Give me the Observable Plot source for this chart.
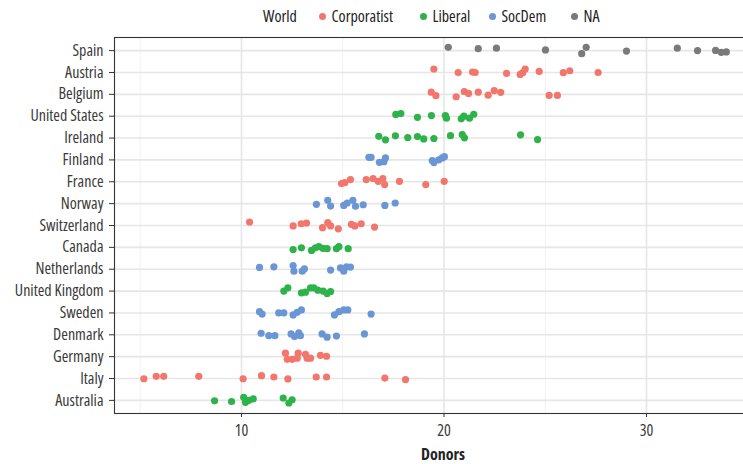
<!DOCTYPE html>
<html><head><meta charset="utf-8">
<script src="https://cdn.jsdelivr.net/npm/d3@7"></script>
<script src="https://cdn.jsdelivr.net/npm/@observablehq/plot@0.6"></script>
<style>
html,body{margin:0;padding:0;background:#fff;overflow:hidden;}
body{font-family:"Open Sans",sans-serif;font-stretch:76%;}
#legend{position:relative;height:30px;width:743px;font-size:16px;color:#222;}
#legend span{position:absolute;top:6px;white-space:nowrap;line-height:20px;}
#legend i{display:inline-block;width:7px;height:7px;border-radius:50%;margin-right:6px;vertical-align:2px;}
#chart svg{max-width:none;font-stretch:76%;}
</style></head><body>
<div id="legend"></div><div id="chart"></div>
<script>
const countries = ["Spain","Austria","Belgium","United States","Ireland","Finland","France","Norway","Switzerland","Canada","Netherlands","United Kingdom","Sweden","Denmark","Germany","Italy","Australia"];
const worlds = ["NA","Corporatist","Corporatist","Liberal","Liberal","SocDem","Corporatist","SocDem","Corporatist","Liberal","SocDem","Liberal","SocDem","SocDem","Corporatist","Corporatist","Liberal"];
const worldLevels = ["Corporatist","Liberal","SocDem","NA"];
const worldColors = ["#f3766d","#2db34a","#6b96d6","#7a7a7a"];
const donors = [
  [20.21,21.69,22.59,25.01,26.8,27.02,29.01,31.52,32.52,33.41,33.69,33.94],
  [19.50,20.70,21.41,21.54,23.09,23.76,23.89,24.01,24.70,25.89,26.21,27.61],
  [19.37,19.60,20.60,21.00,21.21,21.69,22.18,22.48,22.80,25.19,25.60],
  [17.62,17.87,18.69,19.38,20.07,20.12,20.85,20.98,21.26,21.47],
  [16.78,17.11,17.60,18.21,18.69,19.00,19.50,20.32,20.90,21.01,23.78,24.62],
  [16.29,16.40,16.81,17.03,17.11,19.42,19.50,19.74,19.91,20.02],
  [14.94,15.10,15.38,16.16,16.50,16.75,16.98,17.07,17.80,19.10,20.01],
  [13.70,14.26,14.40,15.05,15.22,15.50,15.63,16.01,17.08,17.59],
  [10.40,12.55,12.95,13.21,14.00,14.26,14.40,14.78,15.43,15.60,15.91,16.57],
  [12.55,12.96,13.46,13.65,13.82,14.03,14.23,14.69,14.81,15.27],
  [10.89,11.60,12.55,12.59,13.00,13.11,14.40,14.89,15.05,15.19,15.38],
  [12.09,12.29,12.96,13.16,13.41,13.57,13.77,14.03,14.23,14.40],
  [10.89,11.02,11.84,12.09,12.55,12.75,12.96,14.59,14.81,15.05,15.25,16.40],
  [10.97,11.35,11.65,12.45,12.62,12.83,12.91,13.98,14.23,14.69,16.07],
  [12.17,12.26,12.50,12.75,12.80,13.16,13.24,13.41,13.90,14.20],
  [5.18,5.79,6.16,7.89,10.08,10.99,11.60,12.29,13.69,14.20,17.08,18.10],
  [8.67,9.51,10.11,10.20,10.36,10.58,12.06,12.34,12.50]
];
// vertical jitter (fraction of a row)
const jitter = [
  [-0.15,-0.09,-0.11,-0.03,0.14,-0.15,0.02,-0.11,0,-0.01,0.08,0.06],
  [-0.16,0,-0.02,0,0.04,0.09,0.01,-0.16,-0.05,0.01,-0.08,0],
  [-0.10,0.06,0.11,-0.13,-0.04,-0.10,0.04,-0.17,-0.09,0.05,0.05],
  [-0.08,-0.12,0.05,-0.03,-0.03,0.09,0.12,0,0.09,-0.09],
  [-0.08,0.08,-0.10,-0.02,-0.07,0.04,0.02,-0.11,-0.16,-0.01,-0.15,0.07],
  [-0.12,-0.12,0.11,0.08,-0.09,0.03,0.12,0,-0.09,-0.15],
  [0.08,0.04,-0.10,-0.10,-0.15,-0.02,-0.15,0.13,-0.02,0.13,-0.02],
  [0.03,-0.15,0.11,0.08,-0.03,-0.15,0.12,0.05,0.08,-0.03],
  [-0.16,0.02,-0.08,-0.11,0.10,-0.13,0.02,0.15,-0.05,0.02,-0.08,0.07],
  [0.10,0.02,0.14,0.02,-0.03,0.05,0.06,0.06,-0.03,0.06],
  [-0.08,-0.11,-0.17,0.09,0.09,-0.02,0.04,-0.06,0.09,-0.11,-0.10],
  [0,-0.15,0.08,0.05,-0.15,-0.15,-0.04,0,0.11,0.02],
  [-0.06,0.05,0,0,0.09,-0.03,-0.14,0.09,-0.06,-0.14,-0.14,0.05],
  [-0.07,0.04,0.04,-0.04,0.08,-0.09,0.04,-0.04,0.11,0.06,-0.04],
  [-0.16,0.12,0.12,0.07,-0.16,-0.11,0.07,0.07,-0.06,-0.02],
  [0.01,-0.10,-0.10,-0.10,0.01,-0.13,-0.07,0.02,-0.07,-0.07,-0.02,0.05],
  [0.02,0.05,-0.14,0.09,0,-0.07,-0.11,0.12,-0.03]
];
const xMajor = [10, 20, 30];
const xMinor = [5, 15, 25];
const xDomain = [3.73, 35.48];

const data = [];
countries.forEach((c, i) => donors[i].forEach((v, j) => data.push({country: c, row: i, world: worlds[i], donors: v, jit: jitter[i][j]})));
const rows = d3.range(countries.length);
const yDomain = [-0.6, countries.length - 1 + 0.6];

// legend
const legend = document.getElementById("legend");
const addSpan = (html, left) => { const s = document.createElement("span"); s.innerHTML = html; s.style.left = left + "px"; legend.appendChild(s); };
addSpan("World", 263);
const dotCenters = [322, 423, 492, 574];
worldLevels.forEach((w, k) => addSpan(`<i style="background:${worldColors[k]}"></i>${w}`, dotCenters[k] - 3.5));

const chart = Plot.plot({
  width: 760, height: 434,
  marginLeft: 114, marginRight: 3, marginTop: 7, marginBottom: 51,
  style: {fontFamily: '"Open Sans",sans-serif', fontSize: "16px", color: "#333", background: "#fff", maxWidth: "none"},
  x: {domain: xDomain},
  y: {domain: yDomain, reverse: true},
  color: {domain: worldLevels, range: worldColors},
  marks: [
    Plot.ruleX(xMinor, {stroke: "#efefef", strokeWidth: 0.8}),
    Plot.ruleX(xMajor, {stroke: "#e6e6e6", strokeWidth: 1.6}),
    Plot.ruleY(rows, {stroke: "#e6e6e6", strokeWidth: 1.6}),
    Plot.frame({stroke: "#333", strokeWidth: 1.1}),
    Plot.axisX({ticks: xMajor, tickSize: 4, tickPadding: 7, label: null, stroke: "#333", fill: "#3a3a3a"}),
    Plot.axisY({ticks: rows, tickFormat: i => countries[i], tickSize: 5, tickPadding: 6, label: null, stroke: "#333", fill: "#3a3a3a"}),
    Plot.dot(data, {x: "donors", y: d => d.row + d.jit, fill: "world", r: 3.6}),
    Plot.text(["Donors"], {frameAnchor: "bottom", dy: 46, dx: 7, fontWeight: "bold", fontSize: 16, fill: "#222"})
  ]
});
document.getElementById("chart").appendChild(chart);
</script></body></html>
